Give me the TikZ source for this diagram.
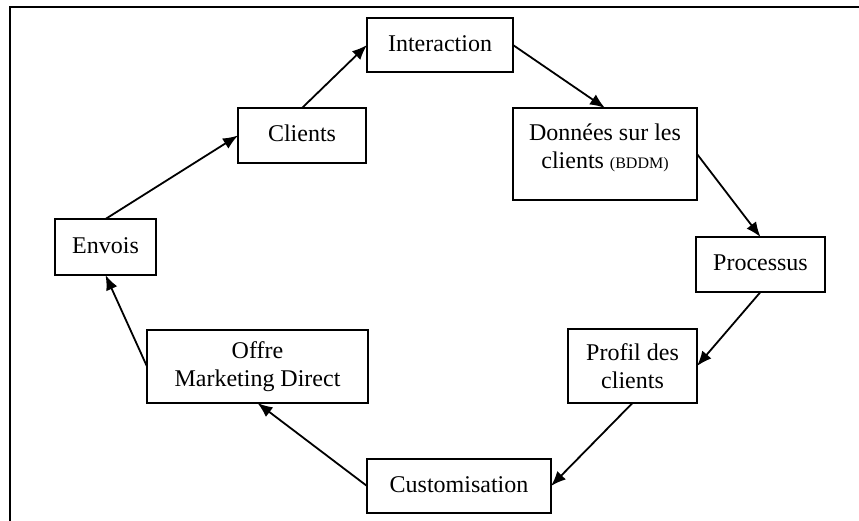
\documentclass[tikz,border=0pt]{standalone}
\usepackage{fontspec}
\setmainfont{Liberation Serif}
\usetikzlibrary{arrows.meta}
\begin{document}
\begin{tikzpicture}[x=1pt,y=-1pt,
  box/.style={draw=black,line width=2pt,inner sep=0pt,outer sep=0pt,align=center,
    font=\fontsize{24}{27.5}\selectfont},
  one/.style={box,text height=17pt,text depth=5pt},
  conn/.style={line width=1.8pt,-{Latex[length=15pt,width=12pt]}}]
\useasboundingbox (0,0) rectangle (859,520);
\draw[line width=2.5pt] (859,7) -- (10,7) -- (10,521);
\node[one,minimum width=146pt,minimum height=54pt] (inter) at (440,45) {Interaction};
\node[one,minimum width=128pt,minimum height=55pt] (clients) at (302,135.5) {Clients};
\node[one,minimum width=101pt,minimum height=56pt] (envois) at (105.5,247) {Envois};
\node[box,minimum width=184pt,minimum height=92pt] (donnees) at (605,154)
  {Données sur les\\clients {\fontsize{16}{18}\selectfont(BDDM)}\\[-12pt]\mbox{}};
\node[one,minimum width=129pt,minimum height=55pt] (proc) at (760.5,264.5) {Processus};
\node[box,minimum width=129pt,minimum height=74pt] (profil) at (632.5,366) {Profil des\\clients};
\node[one,minimum width=184pt,minimum height=54pt] (custom) at (459,486) {Customisation};
\node[box,minimum width=221pt,minimum height=73pt] (offre) at (257.5,366.5) {Offre\\Marketing Direct};
\draw[conn] (clients.north) -- (inter.west);
\draw[conn] (envois.north) -- (clients.west);
\draw[conn] (inter.east) -- (donnees.north);
\draw[conn] (donnees.east) -- (proc.north);
\draw[conn] (proc.south) -- (profil.east);
\draw[conn] (profil.south) -- (custom.east);
\draw[conn] (custom.west) -- (offre.south);
\draw[conn] (offre.west) -- (envois.south);
\end{tikzpicture}
\end{document}
